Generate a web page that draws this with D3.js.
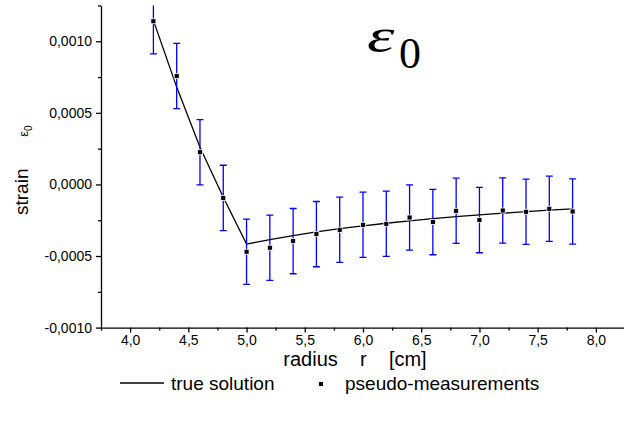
<!DOCTYPE html>
<html>
<head>
<meta charset="utf-8">
<script src="https://cdn.jsdelivr.net/npm/d3@7"></script>
<style>
  body { margin: 0; background: #fff; }
  svg { display: block; font-family: "Liberation Sans", Arial, sans-serif; }
  .pre { white-space: pre; }
</style>
</head>
<body>
<svg id="chart" width="624" height="424"></svg>
<script>
// radius of the measurement points (cm)
const radius = [4.2, 4.4, 4.6, 4.8, 5.0, 5.2, 5.4, 5.6, 5.8, 6.0, 6.2, 6.4, 6.6, 6.8, 7.0, 7.2, 7.4, 7.6, 7.8];
// pseudo-measurements of strain eps0
const measured = [0.00114, 0.000757, 0.000225, -0.000094, -0.00047, -0.000442, -0.000396, -0.000347, -0.000317,
  -0.000282, -0.000275, -0.000231, -0.000263, -0.000184, -0.000249, -0.000182, -0.000191, -0.00017, -0.000189];
// half length of error bars
const errors = [0.000228, 0.000228, 0.000228, 0.000228, 0.000228, 0.000228, 0.000228, 0.000228, 0.000228,
  0.000228, 0.000228, 0.000228, 0.000228, 0.000228, 0.000228, 0.000228, 0.000228, 0.000228, 0.000228];
// true solution at the same radii
const trueSolution = [0.001146, 0.00068, 0.00026, -0.00009, -0.000417, -0.000385, -0.000357, -0.000332, -0.000309,
  -0.000289, -0.000271, -0.000254, -0.000239, -0.000225, -0.000212, -0.000201, -0.00019, -0.00018, -0.000171];

const xMajor = [4.0, 4.5, 5.0, 5.5, 6.0, 6.5, 7.0, 7.5, 8.0];
const xMinor = [3.75, 4.25, 4.75, 5.25, 5.75, 6.25, 6.75, 7.25, 7.75, 8.25];
const yMajor = [-0.001, -0.0005, 0, 0.0005, 0.001];
const yMinor = [-0.00075, -0.00025, 0.00025, 0.00075, 0.00125];

const svg = d3.select("#chart");

const x = d3.scaleLinear().domain([3.75, 8.25]).range([101, 625]);
const y = d3.scaleLinear().domain([-0.001, 0.00125]).range([327.6, 5.5]);

const comma = s => s.replace(".", ",");

// clip for plot area
svg.append("defs").append("clipPath").attr("id", "clip")
  .append("rect")
  .attr("x", 101).attr("y", 5.5)
  .attr("width", 524).attr("height", 327.6 - 5.5);

// axes
function styleAxis(g) {
  g.selectAll("path").attr("stroke", "#000").attr("stroke-width", 1.3);
  g.selectAll("line").attr("stroke", "#000").attr("stroke-width", 1.3);
  g.selectAll("text").attr("fill", "#000").style("font-size", "14px")
    .style("font-family", "'Liberation Sans', Arial, sans-serif");
}

var gx = svg.append("g")
  .attr("transform", "translate(0,327.6)")
  .call(d3.axisBottom(x).tickValues(xMajor).tickSize(5).tickSizeOuter(0).tickPadding(2)
    .tickFormat(d => comma(d3.format(".1f")(d))));
styleAxis(gx);
var gxm = svg.append("g")
  .attr("transform", "translate(0,327.6)")
  .call(d3.axisBottom(x).tickValues(xMinor).tickSize(3).tickSizeOuter(0).tickFormat(""));
styleAxis(gxm);
gxm.select("path").remove();

var gy = svg.append("g")
  .attr("transform", "translate(101,0)")
  .call(d3.axisLeft(y).tickValues(yMajor).tickSize(5).tickSizeOuter(0).tickPadding(4)
    .tickFormat(d => comma(d3.format(".4f")(d)).replace("−", "-")));
styleAxis(gy);
var gym = svg.append("g")
  .attr("transform", "translate(101,0)")
  .call(d3.axisLeft(y).tickValues(yMinor).tickSize(3).tickSizeOuter(0).tickFormat(""));
styleAxis(gym);
gym.select("path").remove();

// plot body
const body = svg.append("g").attr("clip-path", "url(#clip)");

// true solution
const line = d3.line().x((d, i) => x(radius[i])).y(d => y(d));
body.append("path")
  .datum(trueSolution)
  .attr("d", line)
  .attr("fill", "none")
  .attr("stroke", "#000")
  .attr("stroke-width", 1.3);

// error bars
const bars = body.selectAll(".err")
  .data(measured)
  .enter()
  .append("g")
  .attr("class", "err")
  .attr("stroke", "#0000ff")
  .attr("stroke-width", 1.3);
bars.append("line")
  .attr("x1", (d, i) => x(radius[i])).attr("x2", (d, i) => x(radius[i]))
  .attr("y1", (d, i) => y(d + errors[i])).attr("y2", (d, i) => y(d - errors[i]));
bars.append("line")
  .attr("x1", (d, i) => x(radius[i]) - 3.5).attr("x2", (d, i) => x(radius[i]) + 3.5)
  .attr("y1", (d, i) => y(d + errors[i])).attr("y2", (d, i) => y(d + errors[i]));
bars.append("line")
  .attr("x1", (d, i) => x(radius[i]) - 3.5).attr("x2", (d, i) => x(radius[i]) + 3.5)
  .attr("y1", (d, i) => y(d - errors[i])).attr("y2", (d, i) => y(d - errors[i]));

// measurement squares
body.selectAll(".pt")
  .data(measured)
  .enter()
  .append("rect")
  .attr("class", "pt")
  .attr("x", (d, i) => x(radius[i]) - 2.5)
  .attr("y", d => y(d) - 2.5)
  .attr("width", 5)
  .attr("height", 5)
  .attr("fill", "#000")
  .attr("stroke", "#fff")
  .attr("stroke-width", 0.8);

// big eps0 label
svg.append("text")
  .attr("transform", "translate(367,52) scale(1.45,1)")
  .style("font-family", "'Liberation Serif', 'Times New Roman', serif")
  .style("font-style", "italic")
  .style("font-size", "48px")
  .attr("fill", "#000")
  .text("ε");
svg.append("text")
  .attr("x", 399).attr("y", 68)
  .style("font-family", "'Liberation Serif', 'Times New Roman', serif")
  .style("font-size", "44px")
  .attr("fill", "#000")
  .text("0");

// axis titles
svg.append("text")
  .attr("class", "pre")
  .attr("x", 355).attr("y", 366)
  .attr("text-anchor", "middle")
  .style("font-size", "20px")
  .text("radius    r    [cm]");

const yt = svg.append("text")
  .attr("class", "pre")
  .attr("transform", "translate(28,215) rotate(-90)")
  .style("font-size", "19px");
yt.append("tspan").text("strain      ");
yt.append("tspan").style("font-size", "13px").text("ε");
yt.append("tspan").attr("dy", 4).style("font-size", "10px").text("0");

// legend
svg.append("line")
  .attr("x1", 120).attr("x2", 164).attr("y1", 383).attr("y2", 383)
  .attr("stroke", "#000").attr("stroke-width", 1.3);
svg.append("text")
  .attr("x", 171).attr("y", 390)
  .style("font-size", "19px")
  .text("true solution");
svg.append("rect")
  .attr("x", 319).attr("y", 382).attr("width", 4).attr("height", 4)
  .attr("fill", "#000");
svg.append("text")
  .attr("x", 345).attr("y", 390)
  .style("font-size", "19px")
  .text("pseudo-measurements");
</script>
</body>
</html>
